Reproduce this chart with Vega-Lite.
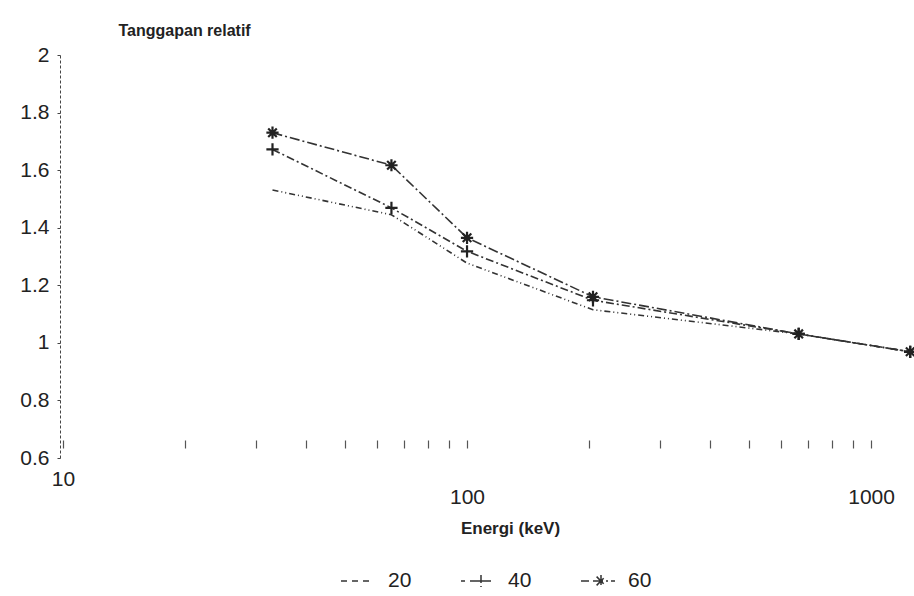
{
  "$schema": "https://vega.github.io/schema/vega-lite/v6.json",
  "width": 850,
  "height": 403,
  "autosize": {"type": "none"},
  "padding": {"left": 63, "top": 55, "right": 1, "bottom": 138},
  "background": "white",
  "config": {"view": {"stroke": null}, "font": "Liberation Sans"},
  "data": {
    "values": [
      {"energy": 33, "response": 1.73, "series": "60"},
      {"energy": 65, "response": 1.617, "series": "60"},
      {"energy": 100, "response": 1.365, "series": "60"},
      {"energy": 205, "response": 1.16, "series": "60"},
      {"energy": 662, "response": 1.031, "series": "60"},
      {"energy": 1250, "response": 0.969, "series": "60"},
      {"energy": 33, "response": 1.672, "series": "40"},
      {"energy": 65, "response": 1.469, "series": "40"},
      {"energy": 100, "response": 1.318, "series": "40"},
      {"energy": 205, "response": 1.148, "series": "40"},
      {"energy": 662, "response": 1.031, "series": "40"},
      {"energy": 1250, "response": 0.969, "series": "40"},
      {"energy": 33, "response": 1.531, "series": "20"},
      {"energy": 65, "response": 1.445, "series": "20"},
      {"energy": 100, "response": 1.277, "series": "20"},
      {"energy": 205, "response": 1.115, "series": "20"},
      {"energy": 662, "response": 1.031, "series": "20"},
      {"energy": 1250, "response": 0.969, "series": "20"}
    ]
  },
  "layer": [
    {
      "mark": {"type": "line", "strokeWidth": 1.6, "color": "#333"},
      "encoding": {
        "x": {
          "field": "energy",
          "type": "quantitative",
          "scale": {"type": "log", "domain": [10, 1270], "nice": false},
          "axis": {
            "values": [10, 20, 30, 40, 50, 60, 70, 80, 90, 100, 200, 300, 400, 500, 600, 700, 800, 900, 1000],
            "labelExpr": "datum.value == 10 || datum.value == 100 || datum.value == 1000 ? format(datum.value, 'd') : ''",
            "domain": false,
            "grid": false,
            "offset": -18,
            "tickSize": 8,
            "tickColor": "#555",
            "tickWidth": 1.2,
            "labelFontSize": 21,
            "labelColor": "#222",
            "labelPadding": {"condition": {"test": "datum.value == 10", "value": 20}, "value": 38},
            "labelFlush": false,
            "labelOverlap": false,
            "title": "Energi (keV)",
            "titleFontSize": 17,
            "titleFontWeight": "bold",
            "titleColor": "#222",
            "titleX": 447,
            "titleY": 88,
            "titleBaseline": "middle"
          }
        },
        "y": {
          "field": "response",
          "type": "quantitative",
          "scale": {"domain": [0.6, 2], "zero": false, "nice": false},
          "axis": {
            "values": [0.6, 0.8, 1, 1.2, 1.4, 1.6, 1.8, 2],
            "format": "~g",
            "grid": false,
            "offset": 3,
            "domainDash": [3, 2],
            "domainColor": "#444",
            "tickSize": 3,
            "tickColor": "#444",
            "labelFontSize": 21,
            "labelColor": "#222",
            "labelPadding": 8,
            "title": "Tanggapan relatif",
            "titleAngle": 0,
            "titleX": 58,
            "titleY": -25,
            "titleAlign": "left",
            "titleBaseline": "middle",
            "titleFontSize": 16,
            "titleFontWeight": "bold",
            "titleColor": "#222"
          }
        },
        "strokeDash": {
          "field": "series",
          "type": "nominal",
          "scale": {"domain": ["20", "40", "60"], "range": [[6, 3, 1, 3, 1, 3], [8, 3, 2, 3], [10, 3, 2, 3]]},
          "legend": {
            "orient": "none",
            "legendX": 277,
            "legendY": 505,
            "direction": "horizontal",
            "title": null,
            "padding": 0,
            "symbolType": "stroke",
            "symbolSize": 1600,
            "symbolStrokeWidth": 1.5,
            "symbolStrokeColor": "#333",
            "labelFontSize": 21,
            "labelColor": "#222",
            "labelOffset": 6,
            "columnPadding": 46,
            "encode": {
              "symbols": {
                "update": {
                  "shape": {"signal": "datum.value == '40' ? 'M-1,0L-0.8,0M-0.55,0L-0.1,0M0.1,0L0.6,0M0,-0.3L0,0.3M-0.2,0L0.2,0' : datum.value == '60' ? 'M-1,0L-0.6,0M-0.4,0L0.7,0M0,-0.3L0,0.3M-0.22,-0.22L0.22,0.22M-0.22,0.22L0.22,-0.22' : 'M-1,0L-0.7,0M-0.45,0L-0.15,0M0.1,0L0.4,0'"},
                  "strokeDash": {"value": []}
                }
              }
            }
          }
        }
      }
    },
    {
      "transform": [{"filter": "datum.series != '20'"}],
      "mark": {"type": "point", "filled": false, "strokeWidth": 2.2, "color": "#222", "size": 150, "opacity": 1},
      "encoding": {
        "x": {"field": "energy", "type": "quantitative"},
        "y": {"field": "response", "type": "quantitative"},
        "shape": {
          "field": "series",
          "type": "nominal",
          "scale": {"domain": ["40", "60"], "range": ["M-1,0L1,0M0,-1L0,1", "M-1,0L1,0M0,-1L0,1M-0.7,-0.7L0.7,0.7M-0.7,0.7L0.7,-0.7"]},
          "legend": null
        }
      }
    }
  ]
}
